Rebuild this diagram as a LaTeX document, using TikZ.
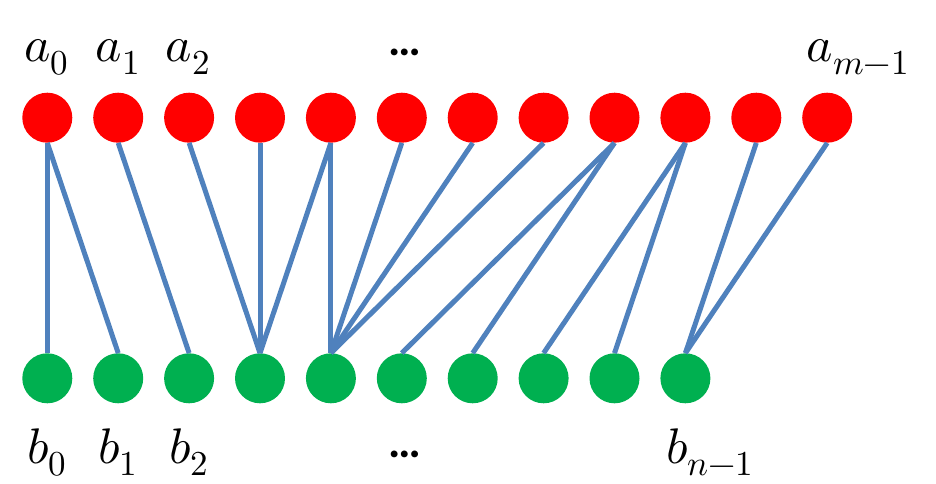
\documentclass[tikz,border=0pt]{standalone}
\usepackage{fontspec}
\usepackage{unicode-math}
\setmathfont{Latin Modern Math}
\newfontfamily\carlito{Carlito}
\definecolor{redn}{HTML}{FF0000}
\definecolor{greenn}{HTML}{00B050}
\definecolor{edgec}{HTML}{4F81BD}
\begin{document}
\begin{tikzpicture}[x=1pt,y=-1pt,
  rednode/.style={circle,fill=redn,minimum size=50pt,inner sep=0pt},
  greennode/.style={circle,fill=greenn,minimum size=50pt,inner sep=0pt},
  edge/.style={draw=edgec,line width=5pt},
  lab/.style={inner sep=0pt,anchor=base,font=\fontsize{50}{60}\selectfont},
  dots/.style={inner sep=0pt,anchor=base,font=\carlito\bfseries\fontsize{46}{50}\selectfont}]
\useasboundingbox (0,0) rectangle (936,484);
\foreach \i in {0,...,11} {
  \node[rednode] (a\i) at ({47.3+70.9*\i},117.7) {};
}
\foreach \i in {0,...,9} {
  \node[greennode] (b\i) at ({47.3+70.9*\i},378.3) {};
}
\foreach \s/\t in {0/0,0/1,1/2,2/3,3/3,4/3,4/4,5/4,6/4,7/4,8/5,8/6,9/7,9/8,10/9,11/9} {
  \draw[edge] (a\s.south) -- (b\t.north);
}
\node[lab] (la0) at (46.5,62) {$a_0$};
\node[lab] (la1) at (118,62) {$a_1$};
\node[lab] (la2) at (188,62) {$a_2$};
\node[dots] (lad) at (405,56) {…};
\node[lab] (lam) at (858,62) {$a_{m-1}$};
\node[lab] (lb0) at (47,463) {$b_0$};
\node[lab] (lb1) at (118,463) {$b_1$};
\node[lab] (lb2) at (189,463) {$b_2$};
\node[dots] (lbd) at (405,457) {…};
\node[lab] (lbn) at (710,463) {$b_{n-1}$};
\end{tikzpicture}
\end{document}
